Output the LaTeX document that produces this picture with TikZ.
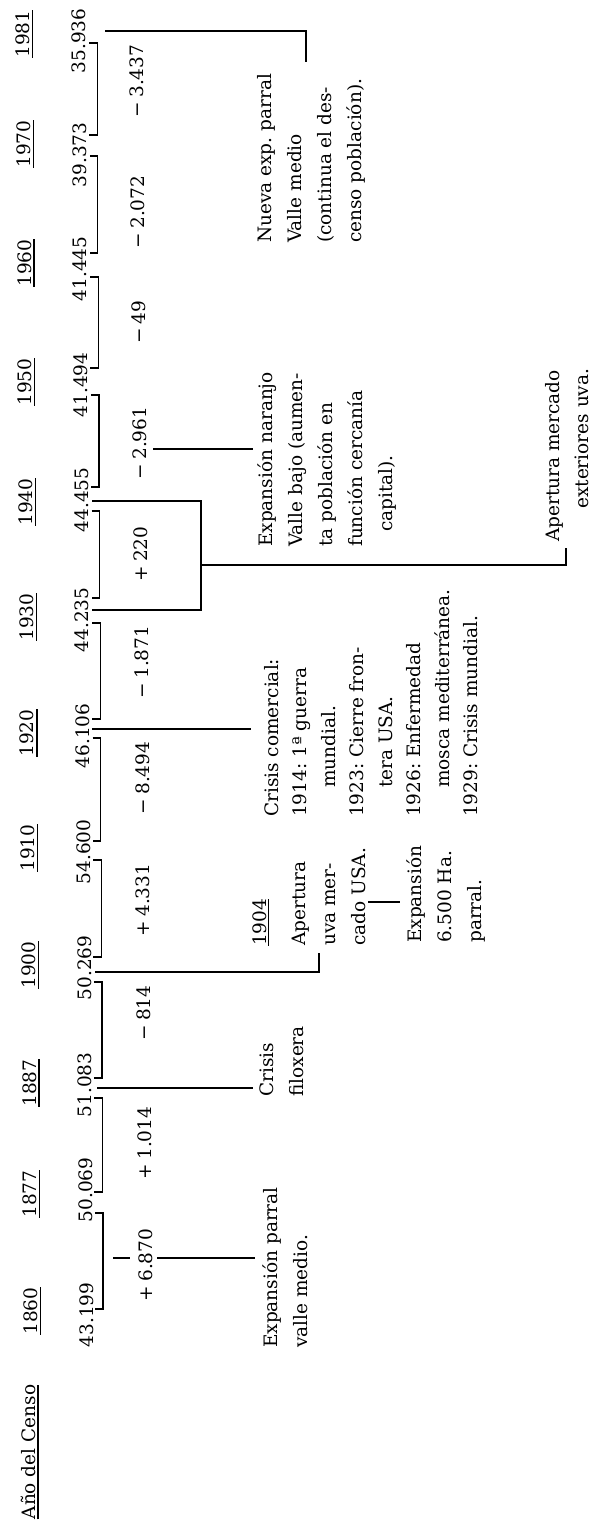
\documentclass[tikz,border=0pt]{standalone}
\usepackage{fontspec}
\setmainfont{DejaVu Serif}
\usetikzlibrary{calc}
\frenchspacing
\newcommand{\mn}{−\hspace{4pt}}
\newcommand{\pl}{+\hspace{4pt}}
\begin{document}
\begin{tikzpicture}[x=1pt,y=-1pt,
  every node/.style={inner sep=0pt, rotate=90, font=\fontsize{18.5}{30}\selectfont},
  yr/.style={anchor=center},
  num/.style={anchor=center},
  dif/.style={anchor=center},
  ann/.style={anchor=north west, align=left},
  br/.style={line width=1.2pt},
  con/.style={line width=1.8pt},
  ul/.style={line width=1.3pt}]
\useasboundingbox (0,0) rectangle (591,1528);

% header
\node[yr] (hdr) at (28,1452) {Año del Censo};
\draw[ul] ($(hdr.south west)+(2.5,0)$) -- ($(hdr.south east)+(2.5,0)$);

% census years
\foreach \yr/\yy in {1981/34,1970/144,1960/263,1950/382,1940/502,1930/617,1920/733,1910/848,1900/965,1887/1083,1877/1194,1860/1311}{
  \pgfmathsetmacro\xx{23+0.006*(\yy-34)}
  \node[yr] (y\yr) at (\xx,\yy) {\yr};
  \draw[ul] ($(y\yr.south west)+(2.5,0)$) -- ($(y\yr.south east)+(2.5,0)$);
}

% population
\foreach \n/\yy [count=\i] in {35.936/41,39.373/155,41.445/269,41.494/385,44.455/500,44.235/620,46.106/736,54.600/852,50.269/968,51.083/1085,50.069/1190,43.199/1315}{
  \pgfmathsetmacro\xx{78.5+0.006*\yy}
  \node[num] (p\i) at (\xx,\yy) {\n};
}

% differences
\foreach \d/\yy [count=\i] in {{\mn 3.437}/81,{\mn 2.072}/212,{\mn 49}/322,{\mn 2.961}/443,{\pl 220}/554,{\mn 1.871}/662,{\mn 8.494}/778,{\pl 4.331}/900,{\mn 814}/1013,{\pl 1.014}/1143,{\pl 6.870}/1265}{
  \pgfmathsetmacro\xx{136.5+0.0075*\yy}
  \node[dif] (d\i) at (\xx,\yy) {\d};
}

% brackets
\foreach \t/\b in {43/135,156/253,277/368,395/487,511/598,623/719,738/841,860/957,982/1078,1098/1192,1213/1309}{
  \pgfmathsetmacro\xb{97+0.005*\t}
  \draw[br] (\xb-8,\t) -- (\xb,\t) -- (\xb,\b) -- (\xb-8,\b);
}

% annotations
\node[ann] (a1) at (262,1348) {Expansión parral\\valle medio.};
\node[ann] (a2) at (260,1097) {Crisis\\filoxera};
\node[ann] (a3) at (253,946) {\underline{1904}\\[9pt]Apertura\\uva mer-\\cado USA.};
\node[ann] (a4) at (406,943) {Expansión\\6.500 Ha.\\parral.};
\node[ann, font=\fontsize{18.5}{28.5}\selectfont] (a5) at (264,817) {Crisis comercial:\\1914: 1ª guerra\\\hspace*{29pt}mundial.\\1923: Cierre fron-\\\hspace*{29pt}tera USA.\\1926: Enfermedad\\\hspace*{29pt}mosca mediterránea.\\1929: Crisis mundial.};
\node[ann] (a6) at (257,547) {Expansión naranjo\\Valle bajo (aumen-\\ta población en\\función cercanía\\\hspace*{15pt}capital).};
\node[ann, font=\fontsize{18.5}{29}\selectfont] (a7) at (545,542) {Apertura mercado\\\hspace*{33pt}exteriores uva.};
\node[ann] (a8) at (257,243) {Nueva exp. parral\\Valle medio\\(continua el des-\\censo población).};

% connector end points
\coordinate (k1a) at (105,31);  \coordinate (k1b) at (306,31);  \coordinate (k1c) at (306,62);
\coordinate (k2a) at (153,449); \coordinate (k2b) at (253,449);
\coordinate (k3a) at (92,501);  \coordinate (k3b) at (201,501); \coordinate (k3c) at (201,610); \coordinate (k3d) at (92,610);
\coordinate (k3e) at (201,565); \coordinate (k3f) at (566,565); \coordinate (k3g) at (566,548);
\coordinate (k4a) at (92,729);  \coordinate (k4b) at (251,729);
\coordinate (k5a) at (95,972);  \coordinate (k5b) at (319,972); \coordinate (k5c) at (319,953);
\coordinate (k6a) at (368,902); \coordinate (k6b) at (400,902);
\coordinate (k7a) at (97,1088); \coordinate (k7b) at (253,1088);
\coordinate (k8a) at (113,1258); \coordinate (k8b) at (130,1258);
\coordinate (k8c) at (157,1258); \coordinate (k8d) at (255,1258);

\draw[con] (k1a) -- (k1b) -- (k1c);
\draw[con] (k2a) -- (k2b);
\draw[con] (k3a) -- (k3b) -- (k3c) -- (k3d);
\draw[con] (k3e) -- (k3f) -- (k3g);
\draw[con] (k4a) -- (k4b);
\draw[con] (k5a) -- (k5b) -- (k5c);
\draw[con] (k6a) -- (k6b);
\draw[con] (k7a) -- (k7b);
\draw[con] (k8a) -- (k8b);
\draw[con] (k8c) -- (k8d);
\end{tikzpicture}
\end{document}
